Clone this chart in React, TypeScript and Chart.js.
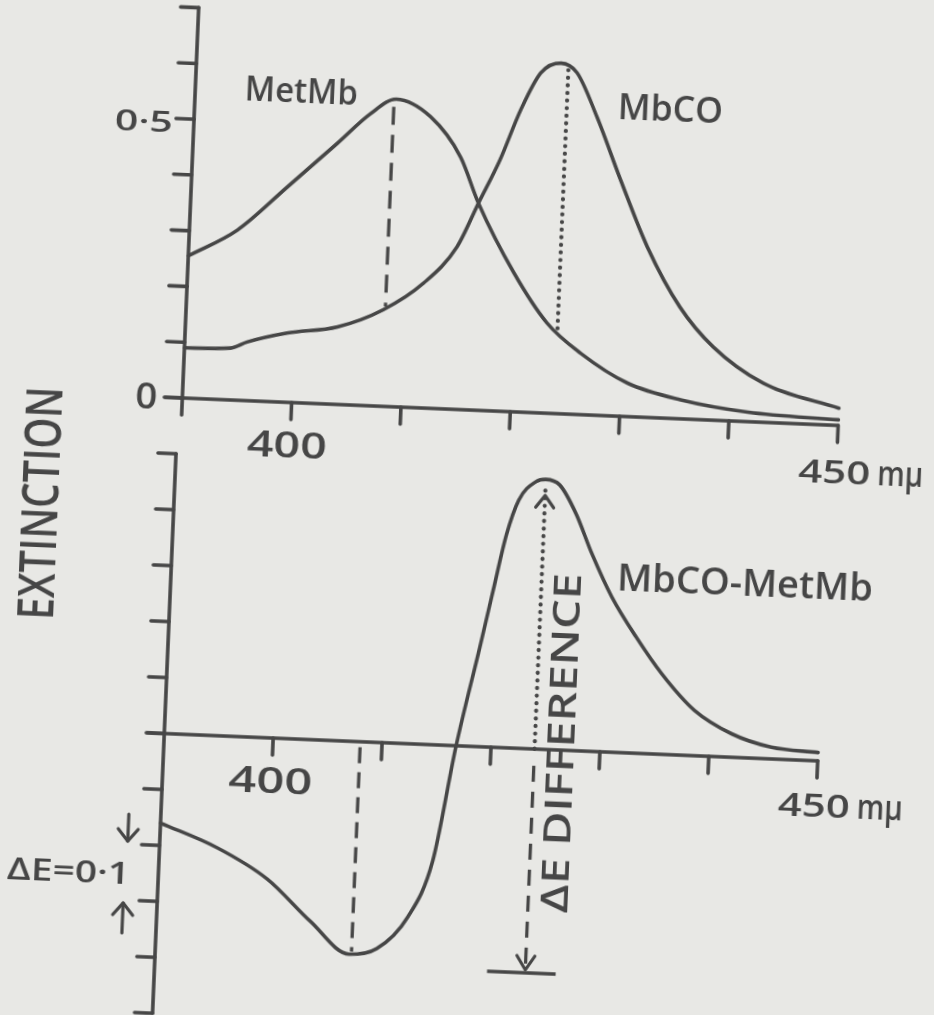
import { useEffect, useRef } from "react";
import { Chart, registerables } from "chart.js";

Chart.register(...registerables);

// ---------- data ----------
const metMbWavelength = [390, 394.4, 398.8, 403.2, 406.1, 408.4, 411.6, 414.5, 416.3, 419.8, 423.0, 426.2, 430.6, 435.5, 441.7, 450];
const metMbExtinction = [0.255, 0.305, 0.386, 0.468, 0.523, 0.551, 0.522, 0.452, 0.371, 0.249, 0.162, 0.11, 0.06, 0.034, 0.017, 0.01];

const mbcoWavelength = [390, 394.2, 395.7, 399.3, 403.9, 408.0, 411.6, 414.5, 416.3, 418.1, 419.8, 421.5, 423.3, 424.8, 426.8, 429.2, 431.9, 435.1, 438.3, 443.0, 450];
const mbcoExtinction = [0.09, 0.093, 0.105, 0.124, 0.139, 0.173, 0.224, 0.291, 0.371, 0.45, 0.541, 0.609, 0.628, 0.612, 0.534, 0.423, 0.305, 0.2, 0.131, 0.07, 0.031];

const diffWavelength = [390, 395.3, 400.0, 404.1, 407.8, 410.3, 413.0, 415.1, 416.8, 418.6, 419.6, 420.6, 421.6, 423.1, 424.0, 425.3, 426.9, 428.5, 430.5, 432.9, 435.4, 438.5, 442.0, 445.7, 450];
const diffExtinction = [-0.16, -0.2, -0.252, -0.324, -0.38, -0.368, -0.31, -0.207, 0.0, 0.178, 0.28, 0.38, 0.443, 0.477, 0.482, 0.473, 0.423, 0.353, 0.277, 0.207, 0.143, 0.081, 0.042, 0.021, 0.015];

// marker lines (wavelength, from, to)
const metMbPeakLine = [408.2, 0.537, 0.179];
const mbcoPeakLine = [424.0, 0.616, 0.144];
const diffMinLine = [408.0, -0.01, -0.375];
const diffMaxDotted = [424.0, 0.462, 0.0];
const diffMaxDashed = [424.0, -0.03, -0.385];
const diffBar = [420.5, 426.8, -0.4];

const xTicks = [390, 400, 410, 420, 430, 440, 450];
const topYTicks = [0, 0.1, 0.2, 0.3, 0.4, 0.5, 0.6, 0.7];
const bottomYTicks = [-0.5, -0.4, -0.3, -0.2, -0.1, 0, 0.1, 0.2, 0.3, 0.4, 0.5];
const topYLabels = ["0", "0·5"];
const xLabels = ["400", "450", "mμ"];

// ---------- layout ----------
const INK = "#464646";
const PAPER = "#e8e8e5";
const CW = 994;
const CH = 1095;
const OFF_X = 30;
const OFF_Y = 40;
const TOP_X0 = OFF_X + 178; // pixel of 390
const TOP_PX = 10.94; // px per nm
const TOP_Y0 = OFF_Y + 410; // pixel of 0
const TOP_PY = 558; // px per unit
const BOT_X0 = OFF_X + 174;
const BOT_PX = 10.9;
const BOT_Y0 = OFF_Y + 746;
const BOT_PY = 560;
const FONT = '"Open Sans", "DejaVu Sans", sans-serif';
const WEIGHT = "600";

const zip = (xs: number[], ys: number[]) => xs.map((x, i) => ({ x, y: ys[i] }));
const vline = (m: number[]) => [{ x: m[0], y: m[1] }, { x: m[0], y: m[2] }];

function fitText(ctx: CanvasRenderingContext2D, text: string, cx: number, cy: number, width: number, capH: number, angle = 0) {
  const size = capH / 0.71;
  ctx.save();
  ctx.font = `${WEIGHT} ${size}px ${FONT}`;
  const w = ctx.measureText(text).width;
  ctx.translate(cx, cy);
  ctx.rotate(angle);
  ctx.scale(width / w, 1);
  ctx.textAlign = "center";
  ctx.textBaseline = "alphabetic";
  ctx.fillText(text, 0, capH / 2);
  ctx.restore();
}

function seg(ctx: CanvasRenderingContext2D, x1: number, y1: number, x2: number, y2: number) {
  ctx.beginPath();
  ctx.moveTo(x1, y1);
  ctx.lineTo(x2, y2);
  ctx.stroke();
}

function chevron(ctx: CanvasRenderingContext2D, x: number, y: number, dir: number, w: number, h: number) {
  ctx.beginPath();
  ctx.moveTo(x - w / 2, y - dir * h);
  ctx.lineTo(x, y);
  ctx.lineTo(x + w / 2, y - dir * h);
  ctx.stroke();
}

const inkPlugin = {
  id: "ink",
  afterDatasetsDraw(chart: any) {
    const ctx: CanvasRenderingContext2D = chart.ctx;
    const X = (v: number) => chart.scales.x.getPixelForValue(v);
    const Y = (v: number) => chart.scales.y.getPixelForValue(v);
    const BX = (v: number) => chart.scales.x2.getPixelForValue(v);
    const BY = (v: number) => chart.scales.y2.getPixelForValue(v);
    ctx.save();
    ctx.strokeStyle = INK;
    ctx.fillStyle = INK;
    ctx.lineWidth = 3.6;
    ctx.lineCap = "round";
    ctx.lineJoin = "round";

    // ---- top panel axes
    const ax = X(390);
    seg(ctx, ax, Y(0.7), ax, Y(0) + 17);
    seg(ctx, ax - 17, Y(0), X(450), Y(0));
    topYTicks.forEach((t) => seg(ctx, ax - 18, Y(t), ax, Y(t)));
    xTicks.slice(1).forEach((t) => seg(ctx, X(t), Y(0), X(t), Y(0) + 17));

    // ---- bottom panel axes
    const bax = BX(390);
    seg(ctx, bax, BY(0.5), bax, BY(-0.5));
    seg(ctx, bax - 17, BY(0), BX(450), BY(0));
    bottomYTicks.forEach((t) => seg(ctx, bax - 18, BY(t), bax, BY(t)));
    xTicks.slice(1).forEach((t) => seg(ctx, BX(t), BY(0), BX(t), BY(0) + 17));

    // ---- tick labels
    fitText(ctx, topYLabels[1], ax - 50, Y(0.5) + 4, 58, 20);
    fitText(ctx, topYLabels[0], ax - 36, Y(0) - 1, 22, 25);
    fitText(ctx, xLabels[0], X(400) - 3, Y(0) + 42, 80, 25);
    fitText(ctx, xLabels[0], BX(400) - 1, BY(0) + 42, 84, 25);
    const drawEnd = (cx: number, cy: number) => {
      fitText(ctx, xLabels[1], cx, cy, 72, 23);
      ctx.save();
      ctx.font = `${WEIGHT} 35px ${FONT}`;
      const w = ctx.measureText(xLabels[2]).width;
      ctx.translate(cx + 43, cy + 11.5);
      ctx.scale(46 / w, 1);
      ctx.textAlign = "left";
      ctx.textBaseline = "alphabetic";
      ctx.fillText(xLabels[2], 0, 0);
      ctx.restore();
    };
    drawEnd(X(450) - 2, Y(0) + 46);
    drawEnd(BX(450) - 2, BY(0) + 44);

    // ---- curve labels
    fitText(ctx, "MetMb", X(399.7), Y(0.5595), 113, 24);
    fitText(ctx, "MbCO", X(433.47), Y(0.555), 105, 26);
    fitText(ctx, "MbCO-MetMb", BX(442.65), BY(0.3137), 256, 27);
    fitText(ctx, "EXTINCTION", ax - 138, Y(0) + 111, 233, 36, -Math.PI / 2);
    fitText(ctx, "ΔE DIFFERENCE", BX(426.4), BY(0.0127), 340, 27, -Math.PI / 2);
    fitText(ctx, "ΔE=0·1", bax - 90, BY(-0.25) + 1, 123, 22);

    // ---- ΔE = 0.1 arrows
    ctx.lineWidth = 3.2;
    const arx = bax - 32;
    seg(ctx, arx, BY(-0.2) - 30, arx, BY(-0.2) - 3);
    chevron(ctx, arx, BY(-0.2) - 3, 1, 20, 12);
    seg(ctx, arx - 2, BY(-0.3) + 33, arx - 2, BY(-0.3) + 3);
    chevron(ctx, arx - 2, BY(-0.3) + 3, -1, 20, 12);

    // ---- difference arrow heads
    const dx = BX(diffMaxDotted[0]);
    chevron(ctx, dx, BY(diffMaxDotted[1]) + 5, -1, 18, 12);
    chevron(ctx, dx, BY(diffBar[2]) - 3, 1, 18, 14);
    ctx.restore();
  },
};

export default function App() {
  const ref = useRef<HTMLCanvasElement>(null);

  useEffect(() => {
    if (!ref.current) return;
    const curve = (data: any, xAxisID: string, yAxisID: string) => ({
      data,
      xAxisID,
      yAxisID,
      borderColor: INK,
      borderWidth: 3.6,
      pointRadius: 0,
      cubicInterpolationMode: "monotone" as const,
      borderCapStyle: "round" as const,
      fill: false,
      clip: false as any,
    });
    const marker = (data: any, xAxisID: string, yAxisID: string, dash: number[], width = 3.3) => ({
      data,
      xAxisID,
      yAxisID,
      borderColor: INK,
      borderWidth: width,
      borderDash: dash,
      borderCapStyle: (dash.length && dash[0] < 1 ? "round" : "butt") as any,
      pointRadius: 0,
      tension: 0,
      fill: false,
      clip: false as any,
    });

    const chart = new Chart(ref.current, {
      type: "line",
      data: {
        datasets: [
          curve(zip(metMbWavelength, metMbExtinction), "x", "y"),
          curve(zip(mbcoWavelength, mbcoExtinction), "x", "y"),
          curve(zip(diffWavelength, diffExtinction), "x2", "y2"),
          marker(vline(metMbPeakLine), "x", "y", [18, 10]),
          marker(vline(mbcoPeakLine), "x", "y", [0.1, 7.5], 4.2),
          marker(vline(diffMinLine), "x2", "y2", [16, 9]),
          marker(vline(diffMaxDotted), "x2", "y2", [0.1, 7.5], 4.2),
          marker(vline(diffMaxDashed), "x2", "y2", [16, 10]),
          marker([{ x: diffBar[0], y: diffBar[2] }, { x: diffBar[1], y: diffBar[2] }], "x2", "y2", [], 3.6),
        ] as any,
      },
      options: {
        responsive: false,
        animation: false,
        events: [],
        layout: { padding: 0, autoPadding: false } as any,
        plugins: { legend: { display: false }, tooltip: { enabled: false }, title: { display: false } },
        scales: {
          x: { type: "linear", axis: "x", display: false, min: 390 - TOP_X0 / TOP_PX, max: 390 + (CW - TOP_X0) / TOP_PX },
          y: { type: "linear", axis: "y", display: false, min: -(CH - TOP_Y0) / TOP_PY, max: TOP_Y0 / TOP_PY },
          x2: { type: "linear", axis: "x", display: false, min: 390 - BOT_X0 / BOT_PX, max: 390 + (CW - BOT_X0) / BOT_PX },
          y2: { type: "linear", axis: "y", display: false, min: -(CH - BOT_Y0) / BOT_PY, max: BOT_Y0 / BOT_PY },
        } as any,
      },
      plugins: [inkPlugin],
    });
    return () => chart.destroy();
  }, []);

  return (
    <div
      style={{
        position: "fixed",
        left: 0,
        top: 0,
        width: 934,
        height: 1015,
        overflow: "hidden",
        background: PAPER,
      }}
    >
      <canvas
        ref={ref}
        width={CW}
        height={CH}
        style={{
          position: "absolute",
          left: -OFF_X,
          top: -OFF_Y,
          width: CW,
          height: CH,
          transform: "rotate(2.4deg)",
        }}
      />
    </div>
  );
}
